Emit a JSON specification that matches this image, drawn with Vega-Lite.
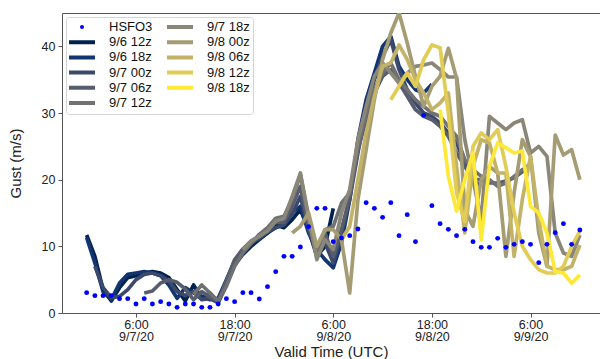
{
 "$schema": "https://vega.github.io/schema/vega-lite/v6.json",
 "width": 538, "height": 300,
 "autosize": "none",
 "padding": {"left": 62, "top": 13, "right": 0, "bottom": 46},
 "background": "white",
 "datasets": {
  "gust": [
   {"s":"HSFO3","t":0,"g":3.05},{"s":"HSFO3","t":1,"g":2.6},{"s":"HSFO3","t":2,"g":2.6},{"s":"HSFO3","t":3,"g":2.6},{"s":"HSFO3","t":4,"g":2.15},{"s":"HSFO3","t":5,"g":2.15},{"s":"HSFO3","t":6,"g":1.35},{"s":"HSFO3","t":7,"g":2.15},{"s":"HSFO3","t":8,"g":1.35},{"s":"HSFO3","t":9,"g":1.7},
   {"s":"HSFO3","t":10,"g":1.35},{"s":"HSFO3","t":11,"g":0.85},{"s":"HSFO3","t":12,"g":1.35},{"s":"HSFO3","t":13,"g":1.35},{"s":"HSFO3","t":14,"g":0.85},{"s":"HSFO3","t":15,"g":0.85},{"s":"HSFO3","t":16,"g":1.35},{"s":"HSFO3","t":17,"g":2.15},{"s":"HSFO3","t":18,"g":1.7},{"s":"HSFO3","t":19,"g":3.05},
   {"s":"HSFO3","t":20,"g":3.05},{"s":"HSFO3","t":21,"g":2.1},{"s":"HSFO3","t":22,"g":3.95},{"s":"HSFO3","t":23,"g":6.2},{"s":"HSFO3","t":24,"g":8.5},{"s":"HSFO3","t":25,"g":8.5},{"s":"HSFO3","t":26,"g":9.9},{"s":"HSFO3","t":27,"g":12.95},{"s":"HSFO3","t":28,"g":15.7},{"s":"HSFO3","t":29,"g":15.7},
   {"s":"HSFO3","t":30,"g":10.7},{"s":"HSFO3","t":31,"g":11.25},{"s":"HSFO3","t":32,"g":11.6},{"s":"HSFO3","t":33,"g":12.6},{"s":"HSFO3","t":34,"g":16.55},{"s":"HSFO3","t":35,"g":15.7},{"s":"HSFO3","t":36,"g":14.35},{"s":"HSFO3","t":37,"g":16.55},{"s":"HSFO3","t":38,"g":11.6},{"s":"HSFO3","t":39,"g":14.75},
   {"s":"HSFO3","t":40,"g":10.7},{"s":"HSFO3","t":41,"g":29.65},{"s":"HSFO3","t":42,"g":16.1},{"s":"HSFO3","t":43,"g":13.4},{"s":"HSFO3","t":44,"g":12.55},{"s":"HSFO3","t":45,"g":11.6},{"s":"HSFO3","t":46,"g":12.55},{"s":"HSFO3","t":47,"g":10.7},{"s":"HSFO3","t":48,"g":9.85},{"s":"HSFO3","t":49,"g":9.85},
   {"s":"HSFO3","t":50,"g":11.2},{"s":"HSFO3","t":51,"g":9.85},{"s":"HSFO3","t":52,"g":10.3},{"s":"HSFO3","t":53,"g":10.7},{"s":"HSFO3","t":54,"g":10.3},{"s":"HSFO3","t":55,"g":7.55},{"s":"HSFO3","t":56,"g":10.3},{"s":"HSFO3","t":57,"g":12.05},{"s":"HSFO3","t":58,"g":13.4},{"s":"HSFO3","t":59,"g":10.3},{"s":"HSFO3","t":60,"g":12.45},

   {"s":"9/6 12z","t":0,"g":11.7},{"s":"9/6 12z","t":1,"g":8.5},{"s":"9/6 12z","t":2,"g":3.5},{"s":"9/6 12z","t":3,"g":1.8},{"s":"9/6 12z","t":4,"g":3.8},{"s":"9/6 12z","t":5,"g":5.3},{"s":"9/6 12z","t":6,"g":5.6},{"s":"9/6 12z","t":7,"g":6.0},{"s":"9/6 12z","t":8,"g":6.2},{"s":"9/6 12z","t":9,"g":6.0},
   {"s":"9/6 12z","t":10,"g":5.3},{"s":"9/6 12z","t":11,"g":3.5},{"s":"9/6 12z","t":12,"g":1.8},{"s":"9/6 12z","t":13,"g":4.2},{"s":"9/6 12z","t":14,"g":2.2},{"s":"9/6 12z","t":15,"g":3.0},{"s":"9/6 12z","t":16,"g":1.6},{"s":"9/6 12z","t":17,"g":4.5},{"s":"9/6 12z","t":18,"g":7.2},{"s":"9/6 12z","t":19,"g":8.8},
   {"s":"9/6 12z","t":20,"g":10.0},{"s":"9/6 12z","t":21,"g":11.0},{"s":"9/6 12z","t":22,"g":12.0},{"s":"9/6 12z","t":23,"g":13.2},{"s":"9/6 12z","t":24,"g":12.8},{"s":"9/6 12z","t":25,"g":14.0},{"s":"9/6 12z","t":26,"g":15.5},{"s":"9/6 12z","t":27,"g":12.5},{"s":"9/6 12z","t":28,"g":8.5},{"s":"9/6 12z","t":29,"g":10.0},{"s":"9/6 12z","t":30,"g":15.7},

   {"s":"9/6 18z","t":0,"g":11.3},{"s":"9/6 18z","t":1,"g":7.5},{"s":"9/6 18z","t":2,"g":3.2},{"s":"9/6 18z","t":3,"g":2.0},{"s":"9/6 18z","t":4,"g":4.5},{"s":"9/6 18z","t":5,"g":5.8},{"s":"9/6 18z","t":6,"g":6.0},{"s":"9/6 18z","t":7,"g":6.2},{"s":"9/6 18z","t":8,"g":6.0},{"s":"9/6 18z","t":9,"g":5.6},
   {"s":"9/6 18z","t":10,"g":4.2},{"s":"9/6 18z","t":11,"g":2.2},{"s":"9/6 18z","t":12,"g":3.8},{"s":"9/6 18z","t":13,"g":3.0},{"s":"9/6 18z","t":14,"g":2.5},{"s":"9/6 18z","t":15,"g":2.0},{"s":"9/6 18z","t":16,"g":2.2},{"s":"9/6 18z","t":17,"g":5.0},{"s":"9/6 18z","t":18,"g":7.8},{"s":"9/6 18z","t":19,"g":9.5},
   {"s":"9/6 18z","t":20,"g":10.5},{"s":"9/6 18z","t":21,"g":11.2},{"s":"9/6 18z","t":22,"g":12.0},{"s":"9/6 18z","t":23,"g":12.8},{"s":"9/6 18z","t":24,"g":13.5},{"s":"9/6 18z","t":25,"g":15.0},{"s":"9/6 18z","t":26,"g":16.0},{"s":"9/6 18z","t":27,"g":12.0},{"s":"9/6 18z","t":28,"g":9.5},{"s":"9/6 18z","t":29,"g":8.0},
   {"s":"9/6 18z","t":30,"g":6.8},{"s":"9/6 18z","t":31,"g":10.5},{"s":"9/6 18z","t":32,"g":17.0},{"s":"9/6 18z","t":33,"g":26.0},{"s":"9/6 18z","t":34,"g":32.0},{"s":"9/6 18z","t":35,"g":36.0},{"s":"9/6 18z","t":36,"g":40.0},{"s":"9/6 18z","t":37,"g":41.5},{"s":"9/6 18z","t":38,"g":37.0},{"s":"9/6 18z","t":39,"g":35.0},
   {"s":"9/6 18z","t":40,"g":33.5},{"s":"9/6 18z","t":41,"g":33.0},{"s":"9/6 18z","t":42,"g":34.3},

   {"s":"9/7 00z","t":1,"g":7.0},{"s":"9/7 00z","t":2,"g":3.8},{"s":"9/7 00z","t":3,"g":2.3},{"s":"9/7 00z","t":4,"g":2.5},{"s":"9/7 00z","t":5,"g":3.5},{"s":"9/7 00z","t":6,"g":5.0},{"s":"9/7 00z","t":7,"g":5.8},{"s":"9/7 00z","t":8,"g":6.0},{"s":"9/7 00z","t":9,"g":5.6},
   {"s":"9/7 00z","t":10,"g":4.8},{"s":"9/7 00z","t":11,"g":3.2},{"s":"9/7 00z","t":12,"g":2.6},{"s":"9/7 00z","t":13,"g":3.2},{"s":"9/7 00z","t":14,"g":2.0},{"s":"9/7 00z","t":15,"g":2.2},{"s":"9/7 00z","t":16,"g":1.5},{"s":"9/7 00z","t":17,"g":4.2},{"s":"9/7 00z","t":18,"g":7.5},{"s":"9/7 00z","t":19,"g":9.2},
   {"s":"9/7 00z","t":20,"g":10.5},{"s":"9/7 00z","t":21,"g":11.2},{"s":"9/7 00z","t":22,"g":12.2},{"s":"9/7 00z","t":23,"g":12.8},{"s":"9/7 00z","t":24,"g":13.2},{"s":"9/7 00z","t":25,"g":14.8},{"s":"9/7 00z","t":26,"g":17.5},{"s":"9/7 00z","t":27,"g":12.5},{"s":"9/7 00z","t":28,"g":9.0},{"s":"9/7 00z","t":29,"g":10.5},
   {"s":"9/7 00z","t":30,"g":7.5},{"s":"9/7 00z","t":31,"g":12.0},{"s":"9/7 00z","t":32,"g":17.0},{"s":"9/7 00z","t":33,"g":24.0},{"s":"9/7 00z","t":34,"g":30.5},{"s":"9/7 00z","t":35,"g":35.0},{"s":"9/7 00z","t":36,"g":38.5},{"s":"9/7 00z","t":37,"g":41.0},{"s":"9/7 00z","t":38,"g":36.5},{"s":"9/7 00z","t":39,"g":33.5},
   {"s":"9/7 00z","t":40,"g":31.5},{"s":"9/7 00z","t":41,"g":30.0},{"s":"9/7 00z","t":42,"g":29.5},{"s":"9/7 00z","t":43,"g":28.5},{"s":"9/7 00z","t":44,"g":27.0},{"s":"9/7 00z","t":45,"g":25.5},{"s":"9/7 00z","t":46,"g":22.5},{"s":"9/7 00z","t":47,"g":20.0},{"s":"9/7 00z","t":48,"g":19.0},

   {"s":"9/7 06z","t":7,"g":3.0},{"s":"9/7 06z","t":8,"g":3.3},{"s":"9/7 06z","t":9,"g":4.5},
   {"s":"9/7 06z","t":10,"g":5.0},{"s":"9/7 06z","t":11,"g":4.6},{"s":"9/7 06z","t":12,"g":3.6},{"s":"9/7 06z","t":13,"g":2.0},{"s":"9/7 06z","t":14,"g":3.2},{"s":"9/7 06z","t":15,"g":2.4},{"s":"9/7 06z","t":16,"g":1.8},{"s":"9/7 06z","t":17,"g":4.8},{"s":"9/7 06z","t":18,"g":8.0},{"s":"9/7 06z","t":19,"g":9.6},
   {"s":"9/7 06z","t":20,"g":10.8},{"s":"9/7 06z","t":21,"g":11.5},{"s":"9/7 06z","t":22,"g":12.6},{"s":"9/7 06z","t":23,"g":13.6},{"s":"9/7 06z","t":24,"g":13.6},{"s":"9/7 06z","t":25,"g":16.0},{"s":"9/7 06z","t":26,"g":19.0},{"s":"9/7 06z","t":27,"g":13.0},{"s":"9/7 06z","t":28,"g":10.0},{"s":"9/7 06z","t":29,"g":12.0},
   {"s":"9/7 06z","t":30,"g":8.5},{"s":"9/7 06z","t":31,"g":12.5},{"s":"9/7 06z","t":32,"g":17.5},{"s":"9/7 06z","t":33,"g":24.5},{"s":"9/7 06z","t":34,"g":29.0},{"s":"9/7 06z","t":35,"g":33.0},{"s":"9/7 06z","t":36,"g":35.5},{"s":"9/7 06z","t":37,"g":36.5},{"s":"9/7 06z","t":38,"g":34.5},{"s":"9/7 06z","t":39,"g":32.5},
   {"s":"9/7 06z","t":40,"g":30.5},{"s":"9/7 06z","t":41,"g":29.5},{"s":"9/7 06z","t":42,"g":29.0},{"s":"9/7 06z","t":43,"g":28.0},{"s":"9/7 06z","t":44,"g":26.5},{"s":"9/7 06z","t":45,"g":24.0},{"s":"9/7 06z","t":46,"g":22.0},{"s":"9/7 06z","t":47,"g":20.0},{"s":"9/7 06z","t":48,"g":20.0},{"s":"9/7 06z","t":49,"g":19.5},
   {"s":"9/7 06z","t":50,"g":19.5},{"s":"9/7 06z","t":51,"g":19.8},{"s":"9/7 06z","t":52,"g":20.3},{"s":"9/7 06z","t":53,"g":21.2},{"s":"9/7 06z","t":54,"g":22.5},

   {"s":"9/7 12z","t":13,"g":2.8},{"s":"9/7 12z","t":14,"g":4.2},{"s":"9/7 12z","t":15,"g":3.0},{"s":"9/7 12z","t":16,"g":1.8},{"s":"9/7 12z","t":17,"g":4.0},{"s":"9/7 12z","t":18,"g":7.0},{"s":"9/7 12z","t":19,"g":9.0},
   {"s":"9/7 12z","t":20,"g":10.4},{"s":"9/7 12z","t":21,"g":11.8},{"s":"9/7 12z","t":22,"g":12.8},{"s":"9/7 12z","t":23,"g":14.2},{"s":"9/7 12z","t":24,"g":14.5},{"s":"9/7 12z","t":25,"g":17.0},{"s":"9/7 12z","t":26,"g":20.8},{"s":"9/7 12z","t":27,"g":14.0},{"s":"9/7 12z","t":28,"g":9.0},{"s":"9/7 12z","t":29,"g":12.5},
   {"s":"9/7 12z","t":30,"g":13.0},{"s":"9/7 12z","t":31,"g":16.5},{"s":"9/7 12z","t":32,"g":18.0},{"s":"9/7 12z","t":33,"g":25.0},{"s":"9/7 12z","t":34,"g":30.0},{"s":"9/7 12z","t":35,"g":33.5},{"s":"9/7 12z","t":36,"g":36.0},{"s":"9/7 12z","t":37,"g":37.5},{"s":"9/7 12z","t":38,"g":35.0},{"s":"9/7 12z","t":39,"g":33.5},
   {"s":"9/7 12z","t":40,"g":32.0},{"s":"9/7 12z","t":41,"g":31.0},{"s":"9/7 12z","t":42,"g":30.0},{"s":"9/7 12z","t":43,"g":29.5},{"s":"9/7 12z","t":44,"g":28.0},{"s":"9/7 12z","t":45,"g":26.5},{"s":"9/7 12z","t":46,"g":23.0},{"s":"9/7 12z","t":47,"g":21.5},{"s":"9/7 12z","t":48,"g":20.5},{"s":"9/7 12z","t":49,"g":20.0},
   {"s":"9/7 12z","t":50,"g":19.0},{"s":"9/7 12z","t":51,"g":19.5},{"s":"9/7 12z","t":52,"g":20.5},{"s":"9/7 12z","t":53,"g":21.5},{"s":"9/7 12z","t":54,"g":22.0},

   {"s":"9/7 18z","t":19,"g":9.5},{"s":"9/7 18z","t":20,"g":10.8},{"s":"9/7 18z","t":21,"g":11.5},{"s":"9/7 18z","t":22,"g":12.3},{"s":"9/7 18z","t":23,"g":13.8},{"s":"9/7 18z","t":24,"g":14.2},{"s":"9/7 18z","t":25,"g":17.5},{"s":"9/7 18z","t":26,"g":21.0},{"s":"9/7 18z","t":27,"g":14.5},{"s":"9/7 18z","t":28,"g":8.0},{"s":"9/7 18z","t":29,"g":11.0},
   {"s":"9/7 18z","t":30,"g":9.5},{"s":"9/7 18z","t":31,"g":15.0},{"s":"9/7 18z","t":32,"g":18.5},{"s":"9/7 18z","t":33,"g":26.0},{"s":"9/7 18z","t":34,"g":31.0},{"s":"9/7 18z","t":35,"g":35.5},{"s":"9/7 18z","t":36,"g":37.5},{"s":"9/7 18z","t":37,"g":36.0},{"s":"9/7 18z","t":38,"g":34.5},{"s":"9/7 18z","t":39,"g":36.0},
   {"s":"9/7 18z","t":40,"g":37.0},{"s":"9/7 18z","t":41,"g":37.2},{"s":"9/7 18z","t":42,"g":37.5},{"s":"9/7 18z","t":43,"g":36.5},{"s":"9/7 18z","t":44,"g":35.4},{"s":"9/7 18z","t":45,"g":35.4},{"s":"9/7 18z","t":46,"g":26.0},{"s":"9/7 18z","t":47,"g":20.0},{"s":"9/7 18z","t":48,"g":14.0},{"s":"9/7 18z","t":49,"g":29.5},
   {"s":"9/7 18z","t":50,"g":28.5},{"s":"9/7 18z","t":51,"g":27.5},{"s":"9/7 18z","t":52,"g":28.5},{"s":"9/7 18z","t":53,"g":29.0},{"s":"9/7 18z","t":54,"g":24.0},{"s":"9/7 18z","t":55,"g":25.0},{"s":"9/7 18z","t":56,"g":23.5},{"s":"9/7 18z","t":57,"g":12.0},{"s":"9/7 18z","t":58,"g":9.0},{"s":"9/7 18z","t":59,"g":8.5},{"s":"9/7 18z","t":60,"g":11.7},

   {"s":"9/8 00z","t":25,"g":12.0},{"s":"9/8 00z","t":26,"g":13.0},{"s":"9/8 00z","t":27,"g":15.0},{"s":"9/8 00z","t":28,"g":10.0},{"s":"9/8 00z","t":29,"g":12.5},
   {"s":"9/8 00z","t":30,"g":12.5},{"s":"9/8 00z","t":31,"g":11.0},{"s":"9/8 00z","t":32,"g":3.0},{"s":"9/8 00z","t":33,"g":17.0},{"s":"9/8 00z","t":34,"g":24.5},{"s":"9/8 00z","t":35,"g":32.0},{"s":"9/8 00z","t":36,"g":38.0},{"s":"9/8 00z","t":37,"g":42.0},{"s":"9/8 00z","t":38,"g":45.0},{"s":"9/8 00z","t":39,"g":40.5},
   {"s":"9/8 00z","t":40,"g":35.5},{"s":"9/8 00z","t":41,"g":31.0},{"s":"9/8 00z","t":42,"g":34.0},{"s":"9/8 00z","t":43,"g":35.5},{"s":"9/8 00z","t":44,"g":39.7},{"s":"9/8 00z","t":45,"g":35.2},{"s":"9/8 00z","t":46,"g":15.5},{"s":"9/8 00z","t":47,"g":13.0},{"s":"9/8 00z","t":48,"g":20.0},{"s":"9/8 00z","t":49,"g":22.0},
   {"s":"9/8 00z","t":50,"g":21.0},{"s":"9/8 00z","t":51,"g":8.5},{"s":"9/8 00z","t":52,"g":18.0},{"s":"9/8 00z","t":53,"g":26.0},{"s":"9/8 00z","t":54,"g":23.5},{"s":"9/8 00z","t":55,"g":12.0},{"s":"9/8 00z","t":56,"g":7.0},{"s":"9/8 00z","t":57,"g":26.7},{"s":"9/8 00z","t":58,"g":23.7},{"s":"9/8 00z","t":59,"g":24.5},{"s":"9/8 00z","t":60,"g":20.0},

   {"s":"9/8 06z","t":31,"g":11.0},{"s":"9/8 06z","t":32,"g":13.0},{"s":"9/8 06z","t":33,"g":20.0},{"s":"9/8 06z","t":34,"g":27.0},{"s":"9/8 06z","t":35,"g":32.5},{"s":"9/8 06z","t":36,"g":37.0},{"s":"9/8 06z","t":37,"g":37.5},{"s":"9/8 06z","t":38,"g":40.2},{"s":"9/8 06z","t":39,"g":38.0},
   {"s":"9/8 06z","t":40,"g":35.0},{"s":"9/8 06z","t":41,"g":33.0},{"s":"9/8 06z","t":42,"g":30.5},{"s":"9/8 06z","t":43,"g":31.5},{"s":"9/8 06z","t":44,"g":33.0},{"s":"9/8 06z","t":45,"g":22.0},{"s":"9/8 06z","t":46,"g":12.0},{"s":"9/8 06z","t":47,"g":22.0},{"s":"9/8 06z","t":48,"g":26.0},{"s":"9/8 06z","t":49,"g":25.5},
   {"s":"9/8 06z","t":50,"g":21.0},{"s":"9/8 06z","t":51,"g":21.0},{"s":"9/8 06z","t":52,"g":8.5},{"s":"9/8 06z","t":53,"g":17.0},{"s":"9/8 06z","t":54,"g":23.5},{"s":"9/8 06z","t":55,"g":14.0},{"s":"9/8 06z","t":56,"g":7.0},{"s":"9/8 06z","t":57,"g":6.5},{"s":"9/8 06z","t":58,"g":6.5},{"s":"9/8 06z","t":59,"g":7.0},{"s":"9/8 06z","t":60,"g":10.2},

   {"s":"9/8 12z","t":37,"g":32.0},{"s":"9/8 12z","t":38,"g":34.0},{"s":"9/8 12z","t":39,"g":36.0},
   {"s":"9/8 12z","t":40,"g":34.0},{"s":"9/8 12z","t":41,"g":38.0},{"s":"9/8 12z","t":42,"g":40.2},{"s":"9/8 12z","t":43,"g":39.8},{"s":"9/8 12z","t":44,"g":30.0},{"s":"9/8 12z","t":45,"g":18.0},{"s":"9/8 12z","t":46,"g":13.7},{"s":"9/8 12z","t":47,"g":25.0},{"s":"9/8 12z","t":48,"g":27.0},{"s":"9/8 12z","t":49,"g":26.0},
   {"s":"9/8 12z","t":50,"g":27.5},{"s":"9/8 12z","t":51,"g":22.0},{"s":"9/8 12z","t":52,"g":15.0},{"s":"9/8 12z","t":53,"g":10.0},{"s":"9/8 12z","t":54,"g":8.0},{"s":"9/8 12z","t":55,"g":6.5},{"s":"9/8 12z","t":56,"g":6.0},{"s":"9/8 12z","t":57,"g":6.0},{"s":"9/8 12z","t":58,"g":7.0},{"s":"9/8 12z","t":59,"g":10.0},{"s":"9/8 12z","t":60,"g":12.3},

   {"s":"9/8 18z","t":43,"g":30.5},{"s":"9/8 18z","t":44,"g":20.5},{"s":"9/8 18z","t":45,"g":15.3},{"s":"9/8 18z","t":46,"g":20.0},{"s":"9/8 18z","t":47,"g":24.0},{"s":"9/8 18z","t":48,"g":11.0},{"s":"9/8 18z","t":49,"g":22.0},
   {"s":"9/8 18z","t":50,"g":25.5},{"s":"9/8 18z","t":51,"g":24.8},{"s":"9/8 18z","t":52,"g":24.0},{"s":"9/8 18z","t":53,"g":24.3},{"s":"9/8 18z","t":54,"g":16.0},{"s":"9/8 18z","t":55,"g":15.0},{"s":"9/8 18z","t":56,"g":12.0},{"s":"9/8 18z","t":57,"g":6.2},{"s":"9/8 18z","t":58,"g":6.0},{"s":"9/8 18z","t":59,"g":4.5},{"s":"9/8 18z","t":60,"g":5.7}
  ]
 },
 "data": {"name": "gust"},
 "layer": [
  {
   "transform": [{"filter": "datum.s !== 'HSFO3'"}],
   "mark": {"type": "line", "strokeWidth": 3.7, "strokeJoin": "round", "clip": true},
   "encoding": {
    "x": {"field": "t", "type": "quantitative",
          "scale": {"domain": [-3, 62.45], "nice": false, "zero": false},
          "axis": {"values": [6, 18, 30, 42, 54],
                   "labelExpr": "datum.value == 6 ? ['6:00','9/7/20'] : datum.value == 18 ? ['18:00','9/7/20'] : datum.value == 30 ? ['6:00','9/8/20'] : datum.value == 42 ? ['18:00','9/8/20'] : ['6:00','9/9/20']",
                   "labelLineHeight": 12.5, "tickSize": 4, "labelPadding": 1, "labelFlush": false, "labelOverlap": false,
                   "title": "Valid Time (UTC)", "titlePadding": 1, "grid": false}},
    "y": {"field": "g", "type": "quantitative",
          "scale": {"domain": [0, 45], "nice": false},
          "axis": {"values": [0, 5, 10, 15, 20, 25, 30, 35, 40, 45], "tickSize": 4, "labelPadding": 3, "labelFlush": false,
                   "title": "Gust (m/s)", "titlePadding": 18, "grid": false}},
    "color": {"field": "s", "type": "nominal",
              "scale": {"domain": ["HSFO3", "9/6 12z", "9/6 18z", "9/7 00z", "9/7 06z", "9/7 12z", "9/7 18z", "9/8 00z", "9/8 06z", "9/8 12z", "9/8 18z"],
                        "range": ["#0000ff", "#00224e", "#123570", "#3b496c", "#575d6d", "#707173", "#8a8678", "#a59c74", "#c3b369", "#e1cc55", "#fee838"]},
              "legend": {"title": null, "orient": "none", "legendX": 4, "legendY": 4, "columns": 2,
                         "columnPadding": 6, "rowPadding": -0.8, "symbolType": "stroke", "symbolSize": 100,
                         "symbolStrokeWidth": 4, "symbolOffset": 6, "labelOffset": 20, "padding": 3,
                         "fillColor": "rgba(255,255,255,0.85)", "strokeColor": "#d4d4d4", "cornerRadius": 3,
                         "labelFont": "Liberation Sans", "labelFontSize": 13, "labelColor": "#111",
                         "encode": {"symbols": {"update": {
                           "shape": {"value": "M-2.6,0L2.6,0"},
                           "size": {"value": 100},
                           "strokeWidth": {"value": 4},
                           "fill": {"value": "transparent"},
                           "stroke": {"signal": "scale('color', datum.value)"},
                           "strokeCap": {"signal": "datum.value === 'HSFO3' ? 'round' : 'butt'"},
                           "strokeDash": {"signal": "datum.value === 'HSFO3' ? [0, 100] : [1, 0]"},
                           "strokeDashOffset": {"signal": "datum.value === 'HSFO3' ? 87 : 0"},
                           "opacity": {"value": 1}}}}}}
   }
  },
  {
   "transform": [{"filter": "datum.s === 'HSFO3'"}],
   "mark": {"type": "point", "filled": true, "size": 24, "opacity": 1},
   "encoding": {
    "x": {"field": "t", "type": "quantitative",
          "axis": {"orient": "top", "labels": false, "ticks": false, "title": null, "grid": false}},
    "y": {"field": "g", "type": "quantitative"},
    "color": {"field": "s", "type": "nominal"}
   }
  }
 ],
 "resolve": {"axis": {"x": "independent"}},
 "config": {
  "view": {"stroke": null},
  "axis": {"labelFont": "Liberation Sans", "labelFontSize": 12.5, "labelColor": "#222",
           "titleFont": "Liberation Sans", "titleFontSize": 15, "titleFontWeight": "normal", "titleColor": "#222",
           "domainColor": "#555", "tickColor": "#555", "domainWidth": 1}
 }
}
